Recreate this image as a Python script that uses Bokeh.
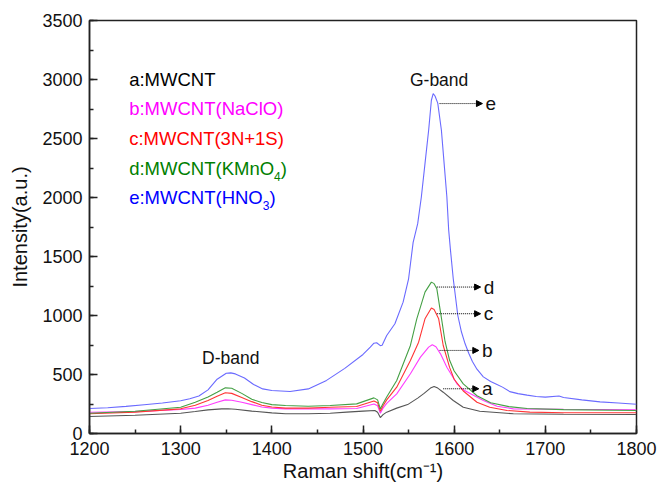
from bokeh.plotting import figure
from bokeh.models import ColumnDataSource, Range1d, SingleIntervalTicker, Arrow, NormalHead, Label
from bokeh.core.properties import value
from bokeh.embed import file_html
from bokeh.resources import INLINE

# ---- data ----
a_x = [1200,1250,1300,1316,1330,1345,1352,1360,1378,1400,1415,1440,1464,1482,1500,1513,1516,1519,1522,1526,1537,1549,1560,1567,1574,1578,1582,1588,1599,1610,1628,1665,1720,1800]
a_y = [144,155,172,186,200,209,210,205,190,175,168,167,172,181,190,195,180,135,160,181,215,245,300,340,385,399,385,350,280,223,189,167,163,161]

b_x = [1200,1250,1300,1316,1330,1340,1349,1356,1367,1378,1389,1400,1415,1440,1464,1493,1512,1516,1519,1522,1526,1537,1552,1563,1572,1576,1580,1585,1592,1603,1610,1618,1632,1647,1665,1720,1800]
b_y = [180,185,203,215,240,265,285,282,265,245,225,215,209,209,209,212,250,235,172,215,255,336,506,647,732,752,735,675,562,421,370,336,280,231,209,205,201]

c_x = [1200,1250,1300,1316,1330,1340,1349,1356,1367,1378,1389,1400,1415,1440,1464,1493,1512,1516,1519,1522,1526,1537,1552,1561,1568,1575,1578,1583,1588,1595,1600,1610,1625,1639,1658,1683,1720,1800]
c_y = [168,181,209,240,280,315,345,340,305,270,240,225,215,215,223,229,275,260,189,235,285,393,619,774,972,1063,1050,972,746,560,460,360,265,223,195,181,176,176]

d_x = [1200,1250,1300,1316,1330,1340,1349,1356,1367,1378,1389,1400,1415,1440,1464,1493,1512,1516,1519,1522,1526,1537,1552,1559,1568,1575,1578,1581,1586,1590,1595,1600,1610,1625,1640,1660,1680,1720,1800]
d_y = [172,189,223,265,310,350,387,383,340,290,262,245,237,231,237,251,302,285,209,255,310,449,746,972,1198,1283,1270,1226,980,780,620,530,420,320,260,228,212,202,195]

e_x = [1200,1220,1240,1260,1280,1300,1310,1320,1330,1340,1350,1355,1360,1370,1380,1390,1400,1420,1440,1460,1480,1500,1508,1512,1515,1519,1521,1526,1535,1544,1550,1555,1560,1564,1568,1572,1575,1577,1579,1582,1586,1589,1592,1594,1596,1599,1604,1608,1612,1616,1620,1625,1632,1640,1647,1653,1661,1670,1680,1690,1700,1715,1720,1740,1760,1780,1800]
e_y = [212,218,230,244,258,278,295,318,370,460,510,514,505,470,415,378,364,356,378,450,552,670,732,765,769,745,748,831,930,1113,1311,1620,1778,2004,2287,2570,2824,2881,2860,2800,2570,2287,2004,1722,1550,1311,1000,860,760,680,610,545,480,440,415,393,355,338,325,314,308,318,305,285,268,258,248]

series_x = [a_x, b_x, c_x, d_x, e_x]
series_y = [a_y, b_y, c_y, d_y, e_y]
line_colors = ["#555555", "#ff3cff", "#ff3535", "#45a045", "#6a6aff"]

# legend texts
letters = ["a", "b", "c", "d", "e"]
legend_main = ["a:MWCNT", "b:MWCNT(NaClO)", "c:MWCNT(3N+1S)", "d:MWCNT(KMnO", "e:MWCNT(HNO"]
legend_sub = ["", "", "", "4", "3"]
legend_tail = ["", "", "", ")", ")"]
legend_y = [3000, 2754, 2500, 2246, 2000]
legend_colors = ["#000000", "#ff00ff", "#ff0000", "#008000", "#0000ff"]

# arrows pointing to the G-band peaks
arrow_y = [379, 704, 1015, 1241, 2796]
arrow_x0 = [1588, 1584, 1581, 1581, 1584]
arrow_x1 = [1627, 1627, 1629, 1629, 1631]

x_ticks_interval = 100
y_ticks_interval = 500

# ---- helpers ----
ARIAL = {'a':556,'b':556,'c':500,'d':556,'e':556,'M':833,'W':944,'C':722,'N':722,'T':611,
         '(':333,')':333,'K':667,'n':556,'O':778,'H':722,':':278,'l':222,'3':556,'4':556,
         '1':556,'+':584,'S':667,'R':722,'m':833,' ':278,'s':500,'h':556,'i':222,'f':278,
         't':278,'-':333}

def tw(s, size):
    return sum(ARIAL.get(ch, 556) for ch in s) * size / 1000.0

FONT = "Liberation Sans"
LEG = 18.5
SUB = 12

p = figure(width=661, height=487, output_backend="svg", toolbar_location=None,
           x_range=Range1d(1200, 1800), y_range=Range1d(0, 3500),
           min_border_left=89, min_border_right=25, min_border_top=20, min_border_bottom=54)
p.background_fill_color = "white"
p.border_fill_color = "white"
p.xgrid.visible = False
p.ygrid.visible = False
p.outline_line_color = "#222222"
p.outline_line_width = 1.5
p.outline_line_alpha = 1.0

for ax, tk in ((p.xaxis[0], SingleIntervalTicker(interval=x_ticks_interval, num_minor_ticks=2)),
               (p.yaxis[0], SingleIntervalTicker(interval=y_ticks_interval, num_minor_ticks=2))):
    ax.ticker = tk
    ax.axis_line_color = "#222222"
    ax.axis_line_width = 1.5
    ax.major_tick_in = 8
    ax.major_tick_out = 0
    ax.minor_tick_in = 4
    ax.minor_tick_out = 0
    ax.major_tick_line_color = "#222222"
    ax.major_tick_line_width = 1.5
    ax.minor_tick_line_color = "#222222"
    ax.minor_tick_line_width = 1.5
    ax.major_label_text_font = FONT
    ax.major_label_text_font_size = "18px"
    ax.major_label_text_color = "#111111"
    ax.axis_label_text_font = FONT
    ax.axis_label_text_font_size = "20px"
    ax.axis_label_text_font_style = "normal"
    ax.axis_label_text_color = "#111111"

p.xaxis.major_label_standoff = 8
p.yaxis.major_label_standoff = 7
p.yaxis.axis_label = "Intensity(a.u.)"
p.yaxis.axis_label_standoff = 8
p.xaxis.axis_label = "Raman shift(cm\u207b\u00b9)"
p.xaxis.axis_label_standoff = 2

# curves
for xs, ys, col in zip(series_x, series_y, line_colors):
    p.line(xs, ys, line_color=col, line_width=1.1)

# legend-like texts
leg_x = [1243.5] * 5
src_main = ColumnDataSource(dict(x=leg_x, y=legend_y, text=legend_main, color=legend_colors))
p.text(x="x", y="y", text="text", text_color="color", source=src_main,
       text_font=value(FONT), text_font_size=value(f"{LEG}px"),
       text_align="left", text_baseline="middle")
sub_off = [tw(m, LEG) for m in legend_main]
tail_off = [tw(m, LEG) + tw(s, SUB) for m, s in zip(legend_main, legend_sub)]
src_sub = ColumnDataSource(dict(x=leg_x, y=legend_y, text=legend_sub, color=legend_colors, xo=sub_off))
p.text(x="x", y="y", text="text", text_color="color", source=src_sub, x_offset="xo", y_offset=8,
       text_font=value(FONT), text_font_size=value(f"{SUB}px"),
       text_align="left", text_baseline="middle")
src_tail = ColumnDataSource(dict(x=leg_x, y=legend_y, text=legend_tail, color=legend_colors, xo=tail_off))
p.text(x="x", y="y", text="text", text_color="color", source=src_tail, x_offset="xo",
       text_font=value(FONT), text_font_size=value(f"{LEG}px"),
       text_align="left", text_baseline="middle")

# arrows + letters
arr_src = ColumnDataSource(dict(x0=arrow_x0, x1=arrow_x1, y=arrow_y))
p.add_layout(Arrow(source=arr_src, x_start="x0", y_start="y", x_end="x1", y_end="y",
                   line_color="black", line_width=1.0, line_dash="1 1",
                   end=NormalHead(size=6, fill_color="black", line_color="black", line_width=1)))
let_src = ColumnDataSource(dict(x=[v + 3.5 for v in arrow_x1], y=arrow_y, text=letters))
p.text(x="x", y="y", text="text", source=let_src, text_color="#111111",
       text_font=value(FONT), text_font_size=value("19px"),
       text_align="left", text_baseline="middle")

# band labels
p.add_layout(Label(x=1355, y=636, text="D-band", text_font=FONT, text_font_size="17.5px",
                   text_align="center", text_baseline="alphabetic", text_color="#111111"))
p.add_layout(Label(x=1583.5, y=2994, text="G-band", text_font=FONT, text_font_size="17.5px",
                   text_align="center", text_baseline="alphabetic", text_color="#111111"))

open("out.html", "w").write(file_html(p, INLINE))
